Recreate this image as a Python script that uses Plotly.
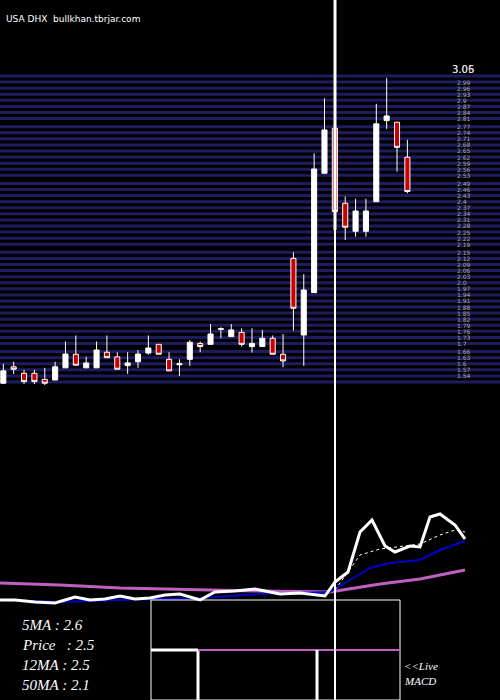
import plotly.graph_objects as go

idx = list(range(40))
opens = [1.504,1.585,1.553,1.553,1.523,1.52,1.58,1.647,1.58,1.58,1.657,1.634,1.591,1.61,1.653,1.696,1.622,1.595,1.622,1.70,
         1.696,1.77,1.734,1.755,1.685,1.685,1.726,1.647,2.12,1.742,1.951,2.54,2.762,2.392,2.254,2.254,2.40,2.80,2.792,2.619]
highs = [1.60,1.61,1.57,1.57,1.58,1.61,1.71,1.74,1.635,1.71,1.74,1.657,1.657,1.668,1.74,1.696,1.657,1.622,1.717,1.71,
         1.796,1.78,1.796,1.775,1.775,1.767,1.74,1.747,2.15,2.042,2.639,2.91,2.784,2.425,2.414,2.414,2.883,3.01,2.792,2.705]
lows = [1.50,1.55,1.50,1.50,1.495,1.52,1.58,1.59,1.58,1.58,1.63,1.573,1.55,1.58,1.645,1.647,1.565,1.54,1.59,1.657,
        1.696,1.726,1.734,1.685,1.655,1.685,1.647,1.583,1.764,1.59,1.951,2.54,2.282,2.211,2.227,2.227,2.40,2.759,2.548,2.441]
closes = [1.565,1.573,1.512,1.512,1.504,1.585,1.648,1.593,1.604,1.668,1.63,1.573,1.604,1.648,1.678,1.647,1.565,1.60,1.706,1.685,
          1.747,1.773,1.767,1.696,1.70,1.726,1.647,1.614,1.874,1.964,2.561,2.754,2.351,2.274,2.354,2.354,2.784,2.823,2.668,2.45]

grid_labels = ["2.99","2.96","2.93","2.9","2.87","2.84","2.81","2.77","2.74","2.71","2.68","2.65","2.62","2.59","2.56","2.53",
               "2.49","2.46","2.43","2.4","2.37","2.34","2.31","2.28","2.25","2.22","2.19","2.15","2.12","2.09","2.06","2.03",
               "2.0","1.97","1.94","1.91","1.88","1.85","1.82","1.79","1.76","1.73","1.7","1.66","1.63","1.6","1.57","1.54"]
top_labels = ["3.06", "3.05"]

# lower panel (panel units: 0 top .. 700 bottom)
ma50_x = [0,60,120,200,260,330,350,380,420,450,465]
ma50_y = [583,585,588,590,591,592,589,584,579,573,570]
price_x = [0,15,35,55,75,90,105,120,135,150,165,180,200,215,235,255,265,280,300,315,325,335,348,360,372,385,395,410,420,430,440,455,465]
price_y = [600,600,602,603,597,600,599,596,599,598,595,594,600,592,591,589,591,594,593,595,596,582,572,532,520,546,552,546,547,517,514,525,539]
ma12_x = [0,60,120,200,260,330,350,370,390,420,440,465]
ma12_y = [600,602,600,598,594,592,580,568,563,560,550,541]
ma5_x = [335,360,380,420,440,455,465]
ma5_y = [590,555,549,544,535,530,532]

fig = go.Figure()
shapes = []
for lab in grid_labels + ["3.02", "1.51"]:
    p = float(lab)
    shapes.append(dict(type="line", xref="paper", yref="y", x0=0, x1=1, y0=p, y1=p,
                       line=dict(color="#1c1c5e", width=3), layer="below"))
fig.add_trace(go.Candlestick(x=idx, open=opens, high=highs, low=lows, close=closes,
    increasing=dict(fillcolor="white", line=dict(color="white", width=1)),
    decreasing=dict(fillcolor="#cc0000", line=dict(color="white", width=1)),
    whiskerwidth=0, showlegend=False))

fig.add_trace(go.Scatter(x=ma50_x, y=ma50_y, xaxis="x2", yaxis="y2", mode="lines", line=dict(color="#c060c0", width=3)))
fig.add_trace(go.Scatter(x=ma12_x, y=ma12_y, xaxis="x2", yaxis="y2", mode="lines", line=dict(color="#0000cc", width=2)))
fig.add_trace(go.Scatter(x=ma5_x, y=ma5_y, xaxis="x2", yaxis="y2", mode="lines", line=dict(color="white", width=1, dash="dot")))
fig.add_trace(go.Scatter(x=price_x, y=price_y, xaxis="x2", yaxis="y2", mode="lines", line=dict(color="white", width=3)))

def s2(x0,y0,x1,y1,color="white",w=1,t="line"):
    shapes.append(dict(type=t, xref="x2", yref="y2", x0=x0, y0=y0, x1=x1, y1=y1, line=dict(color=color, width=w)))
s2(151,600,400,700,t="rect")
s2(151,650,198,650,w=3)
s2(198,650,198,700,w=3)
s2(198,650,400,650,color="#c060c0",w=2)
s2(317,650,317,700,w=3)
s2(335,0,335,700,w=2)
s2(335,0,335,230,w=3)

ann = []
for i, lab in enumerate(grid_labels):
    ann.append(dict(xref="paper", yref="y", x=0.91, y=float(lab), text=lab, showarrow=False,
                    xanchor="left", font=dict(size=6, color="#aaaaaa", family="DejaVu Sans")))
for k, lab in enumerate(top_labels):
    ann.append(dict(xref="paper", yref="y", x=0.90, y=3.05, text=lab, showarrow=False,
                    xanchor="left", font=dict(size=10, color="#dddddd", family="DejaVu Sans")))
ann.append(dict(xref="paper", yref="paper", x=0.008, y=0.983, text="USA DHX  bullkhan.tbrjar.com", showarrow=False,
                xanchor="left", font=dict(size=9, color="white", family="DejaVu Sans")))
for j, t in enumerate(["5MA : 2.6", "Price   : 2.5", "12MA : 2.5", "50MA : 2.1"]):
    ann.append(dict(xref="x2", yref="y2", x=20, y=625+20*j, text=t, showarrow=False, xanchor="left",
                    font=dict(size=15, color="white", family="Liberation Serif", style="italic")))
ann.append(dict(xref="x2", yref="y2", x=402, y=666, text="<<Live", showarrow=False, xanchor="left",
                font=dict(size=11, color="white", family="Liberation Serif", style="italic")))
ann.append(dict(xref="x2", yref="y2", x=402, y=681, text="MACD", showarrow=False, xanchor="left",
                font=dict(size=11, color="white", family="Liberation Serif", style="italic")))

fig.update_layout(
    width=500, height=700, margin=dict(l=0, r=0, t=0, b=0),
    paper_bgcolor="black", plot_bgcolor="black", showlegend=False,
    xaxis=dict(range=[-0.32, 47.94], visible=False, rangeslider=dict(visible=False), fixedrange=True),
    yaxis=dict(range=[-0.059, 3.395], visible=False),
    xaxis2=dict(range=[0, 500], overlaying="x", visible=False),
    yaxis2=dict(range=[700, 0], overlaying="y", visible=False),
    shapes=shapes, annotations=ann,
)
fig.write_html("out.html", config={"displayModeBar": False},
               post_script="document.body.style.margin='0';document.body.style.background='black';")
